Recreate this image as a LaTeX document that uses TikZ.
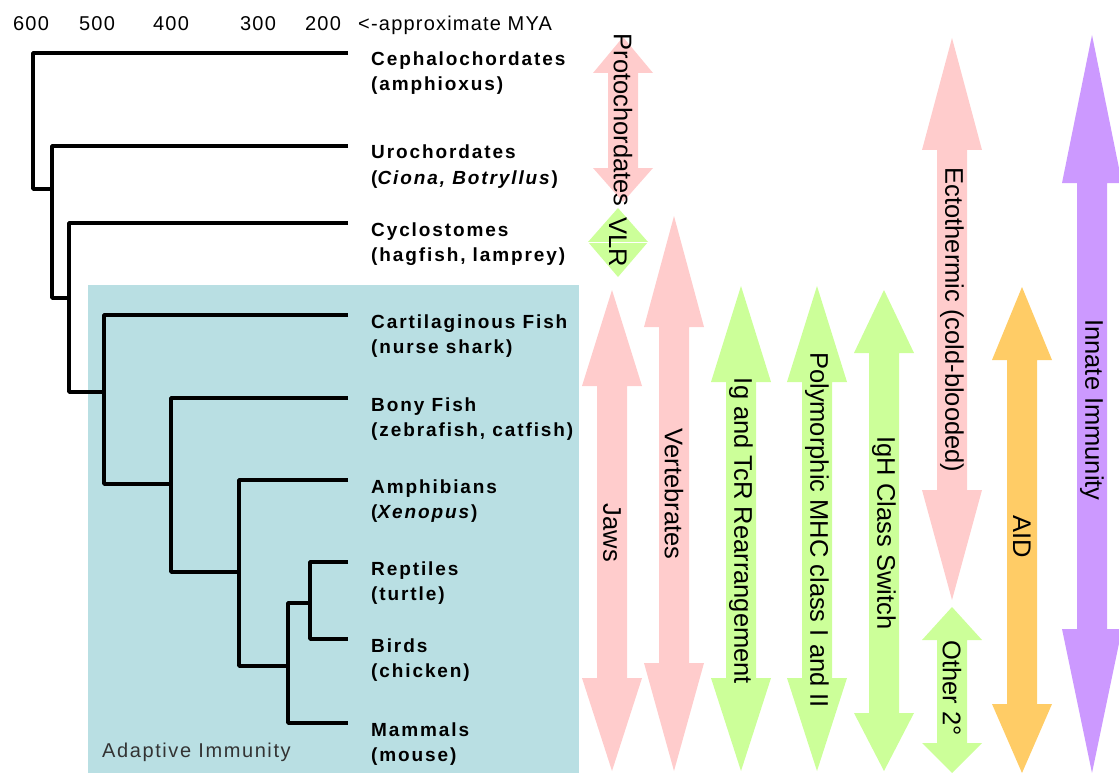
\documentclass[tikz,border=0pt]{standalone}
\usepackage{fontspec}
\setmainfont{Liberation Sans}
\newfontfamily\taxonfont[LetterSpace=10]{Liberation Sans}
\newfontfamily\headfont[LetterSpace=6]{Liberation Sans}
\newfontfamily\boxfont[LetterSpace=8]{Liberation Sans}
\usetikzlibrary{calc}
\definecolor{adaptbg}{HTML}{B9DFE3}
\definecolor{arrpink}{HTML}{FFCCCC}
\definecolor{arrgreen}{HTML}{CCFF99}
\definecolor{arrorange}{HTML}{FFCC66}
\definecolor{arrpurple}{HTML}{CC99FF}

% double arrow: x, top tip, top head base, bottom head base, bottom tip, colour
\newcommand{\dblarrow}[6]{%
  \fill[#6] (#1,#2) -- ({#1+30},#3) -- ({#1+15},#3) -- ({#1+15},#4) -- ({#1+30},#4)
    -- (#1,#5) -- ({#1-30},#4) -- ({#1-15},#4) -- ({#1-15},#3) -- ({#1-30},#3) -- cycle;}

\tikzset{
  tree/.style={line width=3.8pt, line join=round},
  taxon/.style={anchor=base west, align=left, inner sep=0pt,
    font=\taxonfont\bfseries\fontsize{19}{25}\selectfont},
  mya/.style={anchor=base, inner sep=0pt, font=\headfont\fontsize{20}{24}\selectfont},
  arrlabel/.style={rotate=-90, inner sep=0pt, font=\fontsize{25.5}{30}\selectfont}
}

\begin{document}
\begin{tikzpicture}[x=1pt, y=-1pt]
\useasboundingbox (0,0) rectangle (1119,773);

% adaptive immunity box
\fill[adaptbg] (88,285) rectangle (579,773);
\node[anchor=west, inner sep=0pt, text=black!80, font=\boxfont\fontsize{20}{22}\selectfont]
  (adaptive) at (102,752) {Adaptive Immunity};

% time axis
\node[mya] (t600) at (31,31) {600};
\node[mya] (t500) at (97,31) {500};
\node[mya] (t400) at (171,31) {400};
\node[mya] (t300) at (258,31) {300};
\node[mya] (t200) at (323,31) {200};
\node[mya, anchor=base west] (myatext) at (358,31) {<-approximate MYA};

% tips of the tree
\coordinate (ceph) at (348,53);
\coordinate (uro) at (348,146);
\coordinate (cyc) at (348,223);
\coordinate (cart) at (348,315);
\coordinate (bony) at (348,398);
\coordinate (amph) at (348,480);
\coordinate (rept) at (348,562);
\coordinate (bird) at (348,639);
\coordinate (mamm) at (348,723);
% branch points
\coordinate (n0) at (33,121);
\coordinate (n1) at (52,189);
\coordinate (n2) at (69,298);
\coordinate (n3) at (104,392);
\coordinate (n4) at (171,484);
\coordinate (n5) at (239,572);
\coordinate (n6) at (288,666);
\coordinate (n7) at (310,603);

\draw[tree] (ceph) -| (n0) |- (n1);
\draw[tree] (uro) -| (n1) |- (n2);
\draw[tree] (cyc) -| (n2) |- (n3);
\draw[tree] (cart) -| (n3) |- (n4);
\draw[tree] (bony) -| (n4) |- (n5);
\draw[tree] (amph) -| (n5) |- (n6);
\draw[tree] (n7) -| (n6) |- (mamm);
\draw[tree] (rept) -| (n7) |- (bird);

% taxa (base = second line)
\node[taxon] (cephL) at (371,91) {Cephalochordates\\(amphioxus)};
\node[taxon] (uroL) at (371,184) {Urochordates\\(\textit{Ciona, Botryllus})};
\node[taxon] (cycL) at (371,261) {Cyclostomes\\(hagfish, lamprey)};
\node[taxon] (cartL) at (371,353) {Cartilaginous Fish\\(nurse shark)};
\node[taxon] (bonyL) at (371,436) {Bony Fish\\(zebrafish, catfish)};
\node[taxon] (amphL) at (371,518) {Amphibians\\(\textit{Xenopus})};
\node[taxon] (reptL) at (371,600) {Reptiles\\(turtle)};
\node[taxon] (birdL) at (371,677) {Birds\\(chicken)};
\node[taxon] (mammL) at (371,761) {Mammals\\(mouse)};

% arrows
\dblarrow{623}{37}{73}{168}{202}{arrpink}
\dblarrow{618}{208}{242}{242}{277}{arrgreen}
\draw[white, line width=1pt] (588,242) -- (648,242);
\dblarrow{612}{290}{386}{678}{771}{arrpink}
\dblarrow{674}{216}{327}{663}{771}{arrpink}
\dblarrow{741}{286}{382}{678}{771}{arrgreen}
\dblarrow{817}{286}{382}{678}{771}{arrgreen}
\dblarrow{884}{290}{353}{713}{771}{arrgreen}
\dblarrow{952}{38}{150}{490}{600}{arrpink}
\dblarrow{952}{607}{640}{743}{773}{arrgreen}
\dblarrow{1022}{287}{360}{704}{773}{arrorange}
\dblarrow{1092}{35}{183}{629}{773}{arrpurple}

% arrow labels
\node[arrlabel] (protoT) at (623,120) {Protochordates};
\node[arrlabel] (vlrT) at (618,242) {VLR};
\node[arrlabel] (jawsT) at (612,533) {Jaws};
\node[arrlabel] (vertT) at (674,494) {Vertebrates};
\node[arrlabel] (igT) at (741,531) {Ig and TcR Rearrangement};
\node[arrlabel] (mhcT) at (817,530) {Polymorphic MHC class I and II};
\node[arrlabel] (ighT) at (884,533) {IgH Class Switch};
\node[arrlabel] (ectoT) at (952,320) {Ectothermic (cold-blooded)};
\node[arrlabel] (otherT) at (952,688) {Other 2\textdegree};
\node[arrlabel] (aidT) at (1022,537) {AID};
\node[arrlabel] (innateT) at (1092,410) {Innate Immunity};
\end{tikzpicture}
\end{document}
